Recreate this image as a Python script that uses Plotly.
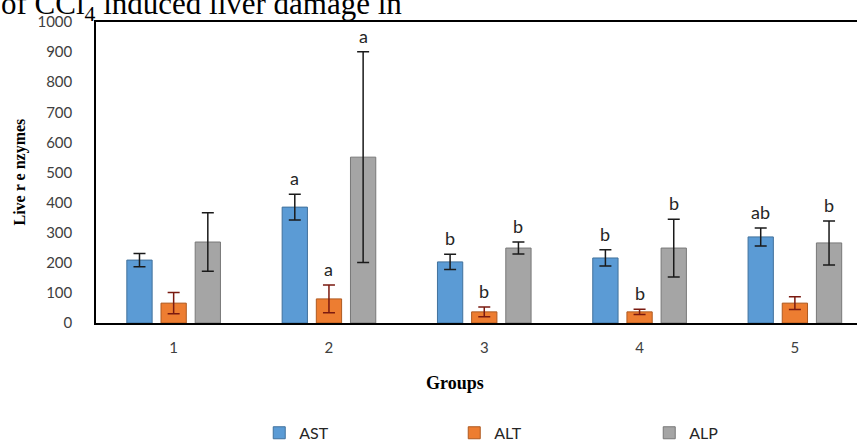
import plotly.graph_objects as go

groups = ["1", "2", "3", "4", "5"]
series_names = ["AST", "ALT", "ALP"]
ast = [209, 385, 203, 216, 286]
alt = [66, 80, 37, 37, 66]
alp = [269, 551, 249, 249, 266]
ast_err = [22, 43, 25, 27, 30]
alt_err = [35, 46, 16, 9, 21]
alp_err = [97, 350, 20, 96, 73]
ast_letters = ["", "a", "b", "b", "ab"]
alt_letters = ["", "a", "b", "b", ""]
alp_letters = ["", "a", "b", "b", "b"]

values = [ast, alt, alp]
errors = [ast_err, alt_err, alp_err]
letters = [ast_letters, alt_letters, alp_letters]
fills = ["#5B9BD5", "#ED7D31", "#A5A5A5"]
outlines = ["#41719C", "#AE5A21", "#787878"]
errcolors = ["#1a1a1a", "#7a1a10", "#1a1a1a"]

bargap = 0.34
xs = list(range(len(groups)))

fig = go.Figure()
for k in range(3):
    fig.add_trace(go.Bar(
        x=xs, y=values[k], name=series_names[k],
        marker=dict(color=fills[k], line=dict(color=outlines[k], width=1)),
        error_y=dict(type="data", array=errors[k], visible=True,
                     color=errcolors[k], thickness=1.5, width=6),
    ))

slot = (1 - bargap) / 3
annotations = []
for k in range(3):
    for i in xs:
        if letters[k][i]:
            annotations.append(dict(
                x=i + (k - 1) * slot, y=values[k][i] + errors[k][i],
                xref="x", yref="y", text=letters[k][i], showarrow=False,
                yanchor="bottom", yshift=3,
                font=dict(family="Lato", size=18, color="#262626")))

annotations.append(dict(
    x=0, y=1, xref="paper", yref="paper", xanchor="left", yanchor="bottom",
    xshift=-97, yshift=-6, showarrow=False,
    text="of CCl<sub>4</sub> induced liver damage in",
    font=dict(family="Liberation Serif", size=31, color="#000000")))

annotations.append(dict(
    x=0.4717, y=0, xref="paper", yref="paper", xanchor="center", yanchor="middle",
    yshift=-60, showarrow=False, text="<b>Groups</b>",
    font=dict(family="Liberation Serif", size=18, color="#000000")))

annotations.append(dict(
    x=0, y=0.5, xref="paper", yref="paper", xanchor="center", yanchor="middle",
    xshift=-77, showarrow=False, textangle=-90, text="<b>Live r e nzymes</b>",
    font=dict(family="Liberation Serif", size=16, color="#000000")))

fig.update_layout(
    width=857, height=441,
    margin=dict(l=96, r=0, t=22, b=118, autoexpand=False),
    paper_bgcolor="white", plot_bgcolor="white",
    barmode="group", bargap=bargap, bargroupgap=0.26,
    showlegend=True,
    legend=dict(orientation="h", x=0.2145, xanchor="left", xref="paper",
                y=-0.365, yanchor="middle",
                entrywidth=150, entrywidthmode="pixels",
                font=dict(family="Lato", size=16, color="#262626"),
                itemclick=False),
    annotations=annotations,
    xaxis=dict(
        tickmode="array", tickvals=xs, ticktext=groups,
        range=[-0.5, 4.4], showgrid=False, zeroline=False, automargin=False,
        showline=True, linecolor="#000000", linewidth=1.5, mirror=True,
        ticks="", ticklabelstandoff=10,
        tickfont=dict(family="Lato", size=15, color="#404040"),
    ),
    yaxis=dict(
        range=[0, 1000], dtick=100, showgrid=False, zeroline=False, automargin=False,
        showline=True, linecolor="#000000", linewidth=1.5, mirror=False,
        ticks="", ticklabelstandoff=19,
        tickfont=dict(family="Lato", size=15, color="#404040"),
    ),
)

fig.write_html("out.html", config={"displayModeBar": False},
               post_script="document.body.style.margin='0';document.body.style.overflow='hidden';")
